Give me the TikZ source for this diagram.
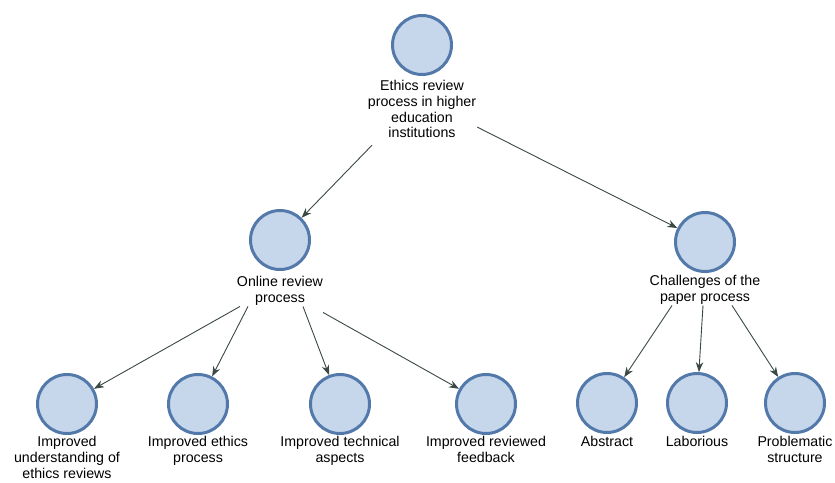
\documentclass[tikz,border=0pt]{standalone}
\usepackage{fontspec}
\setmainfont{Liberation Sans}
\usetikzlibrary{arrows.meta}
\definecolor{cfill}{HTML}{C6D6EB}
\definecolor{cdraw}{HTML}{5279AA}
\definecolor{arr}{HTML}{3A4846}
\begin{document}
\begin{tikzpicture}[x=1pt,y=-1pt,
  circ/.style={circle,draw=cdraw,fill=cfill,line width=3pt,minimum size=59pt,inner sep=0pt},
  lbl/.style={anchor=north,align=center,inner sep=1pt,font=\fontsize{14.2}{15.8}\selectfont},
  conn/.style={draw=arr,line width=0.9pt,-{Stealth[length=10pt,width=7.5pt]}}]
\useasboundingbox (0,0) rectangle (835,482);
% top
\node[circ] (top) at (422,45) {};
\node[lbl] (topl) at (422,79) {Ethics review\\process in higher\\education\\institutions};
% middle
\node[circ] (on) at (280,240) {};
\node[lbl] (onl) at (280,275) {Online review\\process};
\node[circ] (ch) at (705,242) {};
\node[lbl] (chl) at (705,274) {Challenges of the\\paper process};
% leaves
\node[circ] (l1) at (67,404) {};
\node[lbl] (l1l) at (67,435) {Improved\\understanding of\\ethics reviews};
\node[circ] (l2) at (198,404) {};
\node[lbl] (l2l) at (198,435) {Improved ethics\\process};
\node[circ] (l3) at (340,404) {};
\node[lbl] (l3l) at (340,435) {Improved technical\\aspects};
\node[circ] (l4) at (486,404) {};
\node[lbl] (l4l) at (486,435) {Improved reviewed\\feedback};
\node[circ] (r1) at (607,403) {};
\node[lbl] (r1l) at (607,435) {Abstract};
\node[circ] (r2) at (697,403) {};
\node[lbl] (r2l) at (697,435) {Laborious};
\node[circ] (r3) at (795,403) {};
\node[lbl] (r3l) at (795,435) {Problematic\\structure};
% connectors
\path[conn] ([xshift=-50pt,yshift=-6pt]topl.south) -- (on);
\path[conn] ([yshift=-18pt]topl.east) -- (ch);
\path[conn] ([xshift=-40pt]onl.south) -- (l1);
\path[conn] ([xshift=-32pt]onl.south) -- (l2);
\path[conn] ([xshift=23pt]onl.south) -- (l3);
\path[conn] ([xshift=43pt,yshift=-6pt]onl.south) -- (l4);
\path[conn] ([xshift=-33pt]chl.south) -- (r1);
\path[conn] ([xshift=-2pt]chl.south) -- (r2);
\path[conn] ([xshift=27pt]chl.south) -- (r3);
\end{tikzpicture}
\end{document}
